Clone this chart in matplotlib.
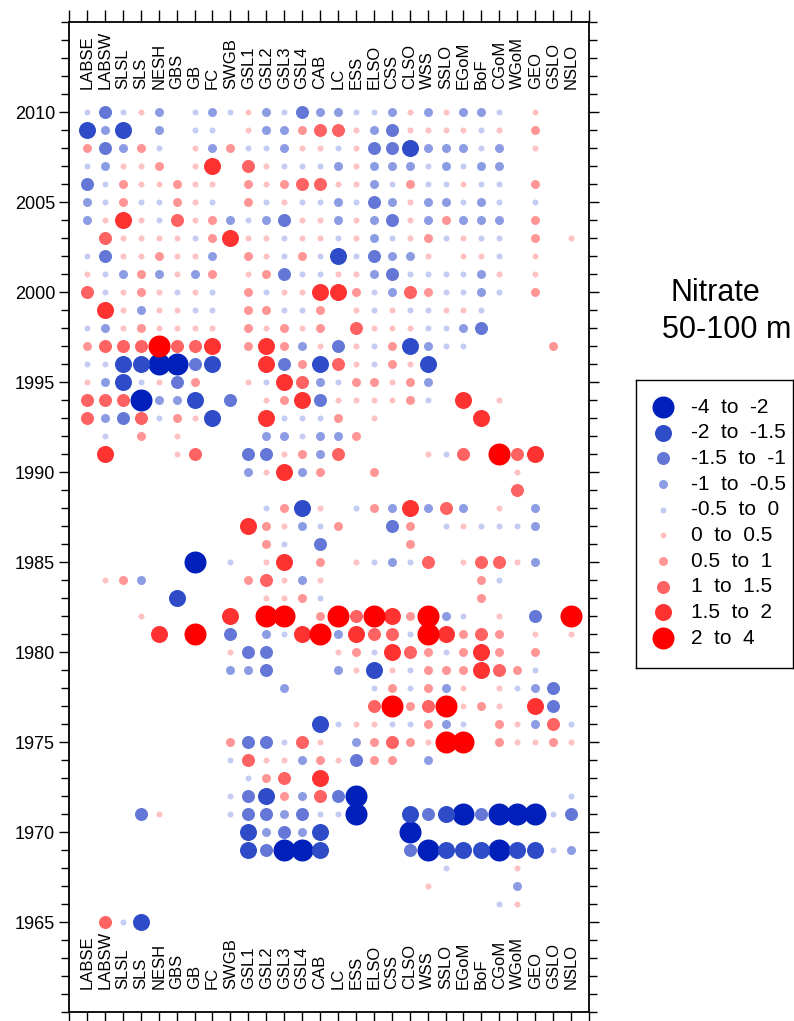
import numpy as np
import matplotlib.pyplot as plt

plt.rcParams['font.family'] = ['Liberation Sans', 'DejaVu Sans']

# Regions (columns) and years (rows, top to bottom)
regions = ["LABSE", "LABSW", "SLSL", "SLS", "NESH", "GBS", "GB", "FC", "SWGB",
           "GSL1", "GSL2", "GSL3", "GSL4", "CAB", "LC", "ESS", "ELSO", "CSS",
           "CLSO", "WSS", "SSLO", "EGoM", "BoF", "CGoM", "WGoM", "GEO", "GSLO", "NSLO"]
years = np.arange(2010, 1964, -1)

# Anomaly classes
class_labels = ["-4  to  -2", "-2  to  -1.5", "-1.5  to  -1", "-1  to  -0.5", "-0.5  to  0",
                "0  to  0.5", "0.5  to  1", "1  to  1.5", "1.5  to  2", "2  to  4"]
class_edges = [-4, -2, -1.5, -1, -0.5, 0, 0.5, 1, 1.5, 2, 4]
class_mid = [-3, -1.75, -1.25, -0.75, -0.25, 0.25, 0.75, 1.25, 1.75, 3]

# One string per region, years 2010 -> 1965 in groups of 5,
# digit = class index above, '.' = no data
anomaly_codes = [
    "41642 33.45 7.464 577.. ..... ..... ..... ..... ..... .",  # LABSE
    "23234 45724 48374 37348 ..... .5... ..... ..... ..... 7",  # LABSW
    "41356 68553 55571 172.. ..... .6... ..... ..... ..... 4",  # SLSL
    "5.655 45556 63671 4076. ..... .3.5. ..... ....2 ..... 1",  # SLS
    "33465 44563 55590 534.. ..... ....8 ..... ....5 ..... .",  # NESH
    "....6 67555 45570 23655 ..... ..1.. ..... ..... ..... .",  # GBS
    "44555 55453 54572 615.7 ..... 0...9 ..... ..... ..... .",  # GB
    "34385 46636 44581 ..1.. ..... ..... ..... ..... ..... .",  # FC
    "4.6.. .38.. ..... .2... ..... 4..82 53... 64.44 ..... .",  # SWGB
    "55476 64565 6666. 5...2 3..8. .6... 23... 27422 11... .",  # GSL1
    "33455 43556 46588 45832 5.466 57593 22... 25612 32... .",  # GSL2
    "43346 52442 54662 86435 8.654 85594 ..3.. 45763 20... .",  # GSL3
    "26547 45564 54536 78446 3.13. .36.8 ..... 73.32 30... .",  # GSL4
    "37547 45544 86651 32433 6.542 65469 ....1 56874 11... .",  # CAB
    "37435 33415 8..27 45637 ...6. ...93 53..4 .5.24 ..... .",  # LC
    "45555 45545 65755 65.6. ..4.. 5..78 65..5 32.00 ..... .",  # ESS
    "43233 23323 44544 655.. 6.6.. 4..97 41475 66... ..... .",  # ELSO
    "32234 32432 35566 55... ..32. 3..87 85694 76... ..... .",  # CSS
    "55136 55534 74515 66... ..866 4..64 74464 6...1 02... .",  # CLSO
    "35344 33654 64431 34..5 ..3.. 7..99 66676 53..2 .0.5. .",  # WSS
    "55334 364.4 4544. ....4 ..74. ...38 46393 9...1 .14.. .",  # SSLO
    "35345 43554 4534. .8..7 ..35. 5..46 66554 9...0 .1... .",  # EGoM
    "34434 33453 342.. ..8.. ...4. 766.7 88.6. ....2 .1... .",  # BoF
    "45334 43445 4.... .5..9 ..54. 74.56 67556 6...0 .0..4 .",  # CGoM
    "..... ..... ..... ....7 57.4. 5.... .64.5 5...0 .1535 .",  # WGoM
    "565.6 46655 6.... ....8 ..33. 3..25 64383 5...0 .1... .",  # GEO
    "..... ..... ...6. ..... ..... ..... ..227 6...4 .4... .",  # GSLO
    "..... ..5.. ..... ..... ..... ...95 ....4 5..42 .3... .",  # NSLO
]

colors = ['#0020bb', '#2e4bc8', '#6477d6', '#8c9ce3', '#c5ccf2',
          '#ffc2c2', '#ff9595', '#ff6262', '#ff3232', '#ff0000']
diam_px = [22, 17, 13, 9, 6, 6, 9, 13, 17, 22]
sizes = [(d * 0.72) ** 2 for d in diam_px]

# decode to anomaly values
xs, ys, vals = [], [], []
for i, code in enumerate(anomaly_codes):
    code = code.replace(" ", "")
    for j, ch in enumerate(code):
        if ch != '.':
            xs.append(i)
            ys.append(years[j])
            vals.append(class_mid[int(ch)])
xs = np.array(xs)
ys = np.array(ys)
vals = np.array(vals)
cls = np.digitize(vals, class_edges[1:-1])

fig = plt.figure(figsize=(7.94, 10.21), dpi=100)
ax = fig.add_axes([69 / 794, 1 - 1012 / 1021, 520 / 794, 990 / 1021])

for k in range(10):
    m = cls == k
    ax.scatter(xs[m], ys[m], s=sizes[k], c=colors[k], linewidths=0, zorder=2)

ax.set_xlim(-1, 28)
ax.set_ylim(1960, 2015)
ax.set_xticks(np.arange(-1, 29))
ax.tick_params(axis='x', top=True, bottom=True, labeltop=False, labelbottom=False,
               direction='out', length=9, width=1)
ax.set_yticks(np.arange(1965, 2011, 5))
ax.set_yticks(np.arange(1960, 2016), minor=True)
ax.tick_params(axis='y', which='major', left=True, right=True, direction='out',
               length=7, width=1, pad=3, labelsize=13)
ax.tick_params(axis='y', which='minor', left=True, right=True, direction='out',
               length=6, width=1)
for sp in ax.spines.values():
    sp.set_linewidth(1.3)

# region labels, top and bottom
for i, name in enumerate(regions):
    ax.text(i, 2011.3, name, rotation=90, ha='center', va='bottom', fontsize=12)
    ax.text(i, 1961.3, name, rotation=90, ha='center', va='bottom', fontsize=12)

# title
fig.text(715 / 794, 1 - 293 / 1021, "Nitrate", ha='center', va='center', fontsize=22)
fig.text(727 / 794, 1 - 330 / 1021, "50-100 m", ha='center', va='center', fontsize=22)

# legend box
lax = fig.add_axes([636 / 794, 1 - 668 / 1021, 157 / 794, 288 / 1021])
lax.set_xlim(0, 157)
lax.set_ylim(288, 0)
lax.set_xticks([])
lax.set_yticks([])
for sp in lax.spines.values():
    sp.set_linewidth(1)
for k in range(10):
    yy = 27 + 25.67 * k
    lax.scatter([27], [yy], s=sizes[k], c=colors[k], linewidths=0)
    lax.text(55, yy, class_labels[k], va='center', ha='left', fontsize=15)

fig.savefig("out.png", dpi=100)
